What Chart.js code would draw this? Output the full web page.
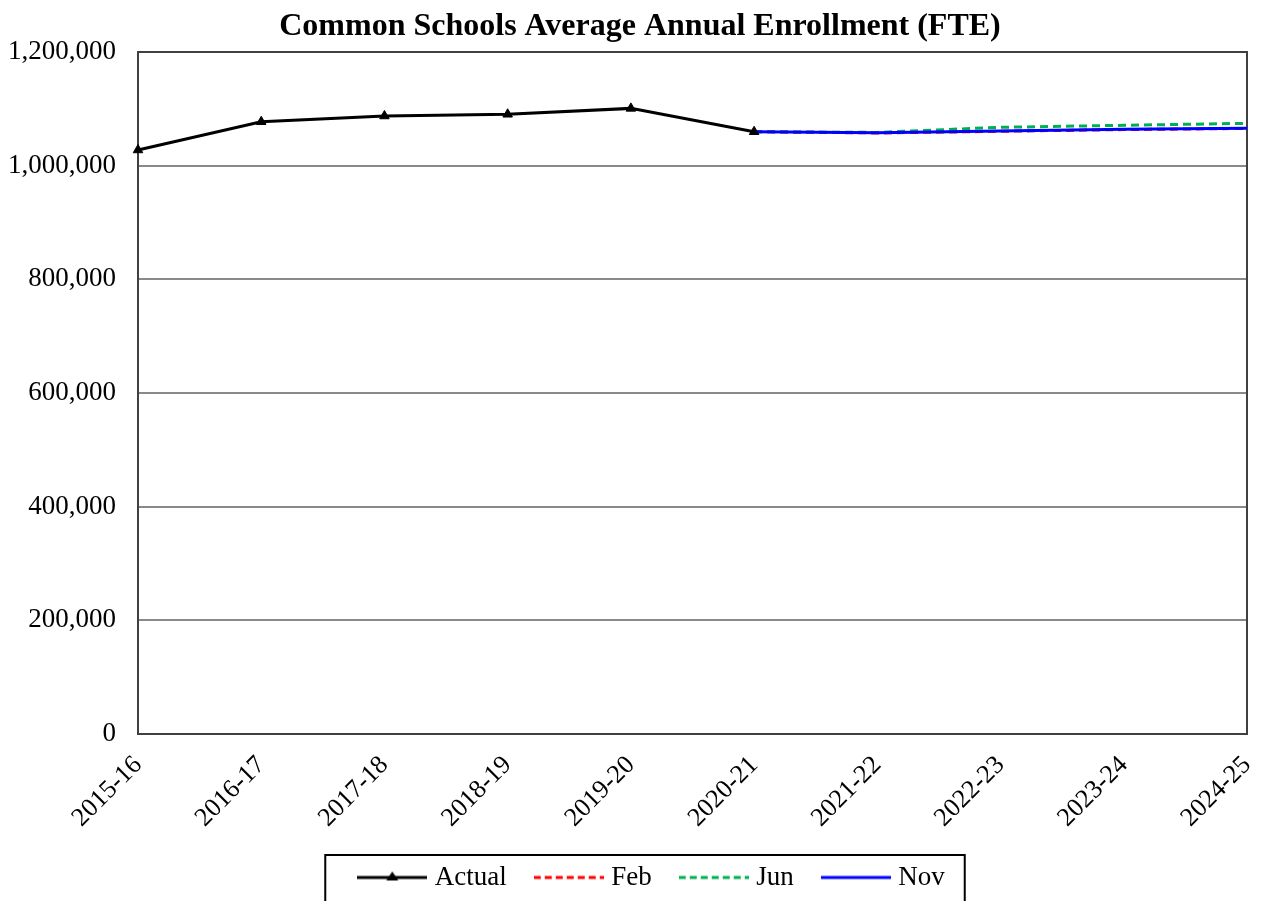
<!DOCTYPE html>
<html>
<head>
<meta charset="utf-8">
<title>Common Schools Average Annual Enrollment (FTE)</title>
<script src="https://cdn.jsdelivr.net/npm/chart.js@4.4.0/dist/chart.umd.min.js"></script>
<style>
  html, body { margin: 0; padding: 0; background: #fff; }
  #wrap { width: 1264px; height: 901px; position: relative; }
</style>
</head>
<body>
<div id="wrap"><canvas id="enrollChart"></canvas></div>
<script>
// School years on the x axis
const years = ['2015-16', '2016-17', '2017-18', '2018-19', '2019-20',
               '2020-21', '2021-22', '2022-23', '2023-24', '2024-25'];

// Actual enrollment, then the three forecasts (Feb, Jun, Nov)
const actual = [1027600, 1077300, 1087400, 1090400, 1100800, 1059700, null, null, null, null];
const feb    = [null, null, null, null, null, 1059700, 1057500, 1060500, 1063500, 1065500];
const jun    = [null, null, null, null, null, 1059700, 1058500, 1067500, 1071000, 1074500];
const nov    = [null, null, null, null, null, 1059700, 1058000, 1061000, 1064000, 1065700];

// y axis ticks
const yTicks = [0, 200000, 400000, 600000, 800000, 1000000, 1200000];

const serif = "'Liberation Serif', 'Times New Roman', serif";

// Small line sample used as the legend symbol
function makeSample(color, dash, withMarker) {
  const c = document.createElement('canvas');
  c.width = 70;
  c.height = 14;
  const g = c.getContext('2d');
  g.strokeStyle = color;
  g.lineWidth = 3;
  g.setLineDash(dash);
  g.beginPath();
  g.moveTo(0, 7);
  g.lineTo(70, 7);
  g.stroke();
  if (withMarker) {
    g.fillStyle = color;
    g.beginPath();
    g.moveTo(35, 1);
    g.lineTo(41, 10);
    g.lineTo(29, 10);
    g.closePath();
    g.fill();
  }
  return c;
}

const samples = [
  makeSample('#000000', [], true),
  makeSample('#ff0000', [7, 4], false),
  makeSample('#00b050', [7, 4], false),
  makeSample('#0000ff', [], false)
];

// Draws the plot frame and the legend frame, nudges title and legend
const framePlugin = {
  id: 'frames',
  afterLayout(chart) {
    // the original centres title and legend a little right of the canvas middle
    if (chart.titleBlock) chart.titleBlock.left += 33;
    if (chart.legend) chart.legend.left += 61;
  },
  beforeDatasetsDraw(chart) {
    const a = chart.chartArea;
    const ctx = chart.ctx;
    ctx.save();
    ctx.strokeStyle = '#404040';
    ctx.lineWidth = 2;
    ctx.strokeRect(a.left, a.top, a.right - a.left, a.bottom - a.top);
    ctx.restore();
  },
  afterDraw(chart) {
    const boxes = chart.legend.legendHitBoxes;
    if (!boxes || !boxes.length) return;
    const left = Math.min(...boxes.map(b => b.left)) - 38;
    const right = Math.max(...boxes.map(b => b.left + b.width)) + 20;
    const top = boxes[0].top - 9;
    const ctx = chart.ctx;
    ctx.save();
    ctx.strokeStyle = '#000000';
    ctx.lineWidth = 2;
    ctx.strokeRect(left, top, right - left, 80);
    ctx.restore();
  }
};

const ctx = document.getElementById('enrollChart').getContext('2d');
new Chart(ctx, {
  type: 'line',
  data: {
    labels: years,
    datasets: [
      {
        label: 'Actual',
        data: actual,
        borderColor: '#000000',
        backgroundColor: '#000000',
        borderWidth: 3,
        pointStyle: 'triangle',
        pointRadius: 5.5,
        pointBorderWidth: 1,
        order: 0
      },
      {
        label: 'Feb',
        data: feb,
        borderColor: '#ff0000',
        backgroundColor: '#ff0000',
        borderWidth: 3,
        borderDash: [8, 5],
        pointRadius: 0,
        order: 3
      },
      {
        label: 'Jun',
        data: jun,
        borderColor: '#00b050',
        backgroundColor: '#00b050',
        borderWidth: 3,
        borderDash: [8, 5],
        pointRadius: 0,
        order: 2
      },
      {
        label: 'Nov',
        data: nov,
        borderColor: '#0000ff',
        backgroundColor: '#0000ff',
        borderWidth: 3,
        pointRadius: 0,
        order: 1
      }
    ]
  },
  options: {
    responsive: true,
    maintainAspectRatio: false,
    animation: false,
    spanGaps: false,
    layout: { padding: { left: 0, right: 17, top: 0, bottom: 0 } },
    scales: {
      x: {
        offset: false,
        grid: { display: false, drawTicks: false },
        border: { display: false },
        ticks: {
          color: '#000000',
          font: { family: serif, size: 26 },
          minRotation: 45,
          maxRotation: 45,
          padding: 16,
          autoSkip: false
        },
        afterFit(scale) {
          scale.height = 97;
          scale.paddingRight = 0;
          scale.paddingLeft = 0;
        }
      },
      y: {
        min: 0,
        max: 1200000,
        afterBuildTicks(scale) { scale.ticks = yTicks.map(v => ({ value: v })); },
        grid: { color: '#898989', lineWidth: 2, drawTicks: false },
        border: { display: false },
        ticks: {
          color: '#000000',
          font: { family: serif, size: 27 },
          padding: 22,
          callback: v => v.toLocaleString('en-US')
        },
        afterFit(scale) { scale.width = 138; }
      }
    },
    plugins: {
      title: {
        display: true,
        text: 'Common Schools Average Annual Enrollment (FTE)',
        color: '#000000',
        font: { family: serif, size: 32, weight: 'bold', lineHeight: 1.2 },
        padding: { top: 8, bottom: 5.6 }
      },
      legend: {
        position: 'bottom',
        labels: {
          color: '#000000',
          font: { family: serif, size: 27 },
          usePointStyle: true,
          pointStyleWidth: 58,
          boxHeight: 14,
          padding: 33,
          sort: (a, b) => a.datasetIndex - b.datasetIndex,
          generateLabels(chart) {
            const items = Chart.defaults.plugins.legend.labels.generateLabels(chart);
            items.forEach(it => { it.pointStyle = samples[it.datasetIndex]; });
            return items;
          }
        }
      },
      tooltip: { enabled: false }
    }
  },
  plugins: [framePlugin]
});
</script>
</body>
</html>
